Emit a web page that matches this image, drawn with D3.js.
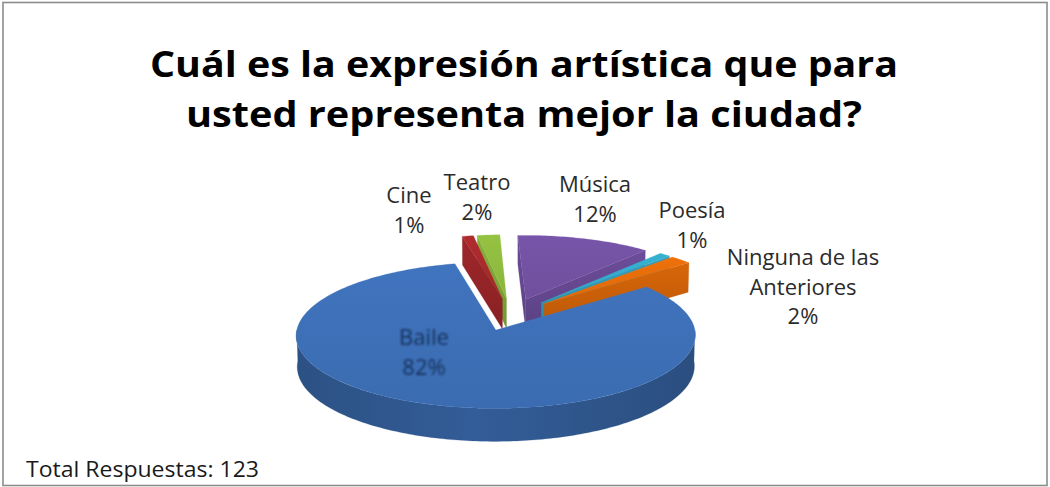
<!DOCTYPE html>
<html>
<head>
<meta charset="utf-8">
<script src="https://cdn.jsdelivr.net/npm/d3@7"></script>
<style>
  html, body { margin: 0; padding: 0; background: #ffffff; }
  svg { display: block; }
</style>
</head>
<body>
<svg id="chart" width="1050" height="487"></svg>
<script>
// Survey answers (percent of 123 responses)
const categories = ["Baile", "Cine", "Teatro", "Música", "Poesía", "Ninguna de las Anteriores"];
const percentValues = [82, 1, 2, 12, 1, 2];
const sliceColors = ["#3d6fb6", "#a8292c", "#8fba3f", "#7251a2", "#35aac8", "#e46c0a"];
const labelLines = [
  ["Baile", "82%"],
  ["Cine", "1%"],
  ["Teatro", "2%"],
  ["Música", "12%"],
  ["Poesía", "1%"],
  ["Ninguna de las", "Anteriores", "2%"]
];
const titleLines = ["Cuál es la expresión artística que para", "usted representa mejor la ciudad?"];
const footnote = "Total Respuestas: 123";

const W = 1050, H = 487;
const svg = d3.select("#chart");

// ---- 3D pie geometry -------------------------------------------------------
const R = 196;                 // pie radius
const tilt = Math.asin(0.36);  // viewing elevation
const camDist = 2600;          // perspective distance
const thick = 33;              // pie thickness
const explode = 45;            // distance each slice is pulled out
const originX = 511, originY = 314.5;
const firstAngle = 51.8 * Math.PI / 180;

const cosT = Math.cos(tilt), sinT = Math.sin(tilt);
function project(X, Y, Z) {
  const zc = camDist + Z * cosT - Y * sinT;
  const yc = Z * sinT + Y * cosT;
  return { x: originX + camDist * X / zc, y: originY - camDist * yc / zc, z: zc };
}

const pie = d3.pie().sort(null).value(d => d)
  .startAngle(firstAngle).endAngle(firstAngle + 2 * Math.PI);
const arcs = pie(percentValues);

const slices = arcs.map((a, i) => {
  const mid = (a.startAngle + a.endAngle) / 2;
  return {
    i, a0: a.startAngle, a1: a.endAngle, mid,
    ox: explode * Math.sin(mid), oz: explode * Math.cos(mid),
    color: sliceColors[i]
  };
});

function pt(s, theta, r, Y) {
  return project(s.ox + r * Math.sin(theta), Y, s.oz + r * Math.cos(theta));
}
function arcPts(s, t0, t1, Y) {
  const n = Math.max(2, Math.ceil(Math.abs(t1 - t0) / (Math.PI / 180)));
  return d3.range(n + 1).map(k => pt(s, t0 + (t1 - t0) * k / n, R, Y));
}
const line = pts => "M" + pts.map(p => p.x.toFixed(2) + "," + p.y.toFixed(2)).join("L") + "Z";

// ---- gradients ------------------------------------------------------------
const defs = svg.append("defs");
slices.forEach(s => {
  const c = d3.color(s.color);
  const gTop = defs.append("linearGradient").attr("id", "top" + s.i)
    .attr("x1", 0).attr("y1", 0).attr("x2", 0).attr("y2", 1);
  gTop.append("stop").attr("offset", "0%").attr("stop-color", c.brighter(0.12));
  gTop.append("stop").attr("offset", "100%").attr("stop-color", c.darker(0.08));

  const gSide = defs.append("linearGradient").attr("id", "side" + s.i)
    .attr("x1", 0).attr("y1", 0).attr("x2", 1).attr("y2", 0);
  gSide.append("stop").attr("offset", "0%").attr("stop-color", c.darker(0.9));
  gSide.append("stop").attr("offset", "45%").attr("stop-color", c.darker(0.5));
  gSide.append("stop").attr("offset", "100%").attr("stop-color", c.darker(1.0));

  const gFace = defs.append("linearGradient").attr("id", "face" + s.i)
    .attr("x1", 0).attr("y1", 0).attr("x2", 0).attr("y2", 1);
  gFace.append("stop").attr("offset", "0%").attr("stop-color", c.darker(0.15));
  gFace.append("stop").attr("offset", "100%").attr("stop-color", c.darker(0.6));
});
const blur = defs.append("filter").attr("id", "soft").attr("x", "-10%").attr("y", "-10%")
  .attr("width", "120%").attr("height", "120%");
blur.append("feGaussianBlur").attr("stdDeviation", 0.9);

// ---- frame ------------------------------------------------------------------
svg.append("rect").attr("x", 3).attr("y", 2.5).attr("width", 1044).attr("height", 483)
  .attr("fill", "#ffffff").attr("stroke", "#8c8c8c").attr("stroke-width", 1.6);

// ---- title ------------------------------------------------------------------
const titleG = svg.append("g")
  .attr("font-family", "'Open Sans', 'Noto Sans', sans-serif")
  .attr("font-weight", "bold").attr("font-size", 36.5).attr("fill", "#000");
const titleLayout = [{ y: 77, len: 748 }, { y: 127, len: 676 }];
titleLines.forEach((t, k) => {
  titleG.append("text").attr("x", W / 2 - 1).attr("y", titleLayout[k].y)
    .attr("text-anchor", "middle")
    .attr("textLength", titleLayout[k].len).attr("lengthAdjust", "spacingAndGlyphs")
    .text(t);
});

// ---- side faces (back to front) -------------------------------------------
const faces = [];
const bottomY = -thick;
slices.forEach(s => {
  const c = pt(s, 0, 0, 0), cb = pt(s, 0, 0, bottomY);
  // start radial face
  if (Math.sin(s.a0) < 0) {
    const o = pt(s, s.a0, R, 0), ob = pt(s, s.a0, R, bottomY);
    const pts = [c, o, ob, cb];
    faces.push({ s, pts, fill: "url(#face" + s.i + ")", z: d3.mean(pts, p => p.z) });
  }
  // end radial face
  if (Math.sin(s.a1) > 0) {
    const o = pt(s, s.a1, R, 0), ob = pt(s, s.a1, R, bottomY);
    const pts = [c, o, ob, cb];
    faces.push({ s, pts, fill: "url(#face" + s.i + ")", z: d3.mean(pts, p => p.z) });
  }
  // outer wall facing the viewer
  for (const shift of [0, 2 * Math.PI]) {
    const lo = Math.max(s.a0, Math.PI / 2 + shift), hi = Math.min(s.a1, 3 * Math.PI / 2 + shift);
    if (hi > lo) {
      const top = arcPts(s, lo, hi, 0);
      const bot = arcPts(s, hi, lo, bottomY);
      const pts = top.concat(bot);
      faces.push({ s, pts, fill: "url(#side" + s.i + ")", z: d3.min(pts, p => p.z) - 1000 });
    }
  }
});
faces.sort((a, b) => b.z - a.z);

const pieG = svg.append("g");
pieG.selectAll("path.face").data(faces).join("path")
  .attr("class", "face")
  .attr("d", f => line(f.pts))
  .attr("fill", f => f.fill)
  .attr("stroke", f => d3.color(f.s.color).darker(0.8))
  .attr("stroke-width", 0.4)
  .attr("stroke-opacity", 0.5);

// ---- top faces ------------------------------------------------------------
const tops = slices.map(s => {
  const c = pt(s, 0, 0, 0);
  const pts = [c].concat(arcPts(s, s.a0, s.a1, 0));
  return { s, pts, z: c.z };
}).sort((a, b) => b.z - a.z);

pieG.selectAll("path.top").data(tops).join("path")
  .attr("class", "top")
  .attr("d", t => line(t.pts))
  .attr("fill", t => "url(#top" + t.s.i + ")")
  .attr("stroke", t => d3.color(t.s.color).brighter(0.2))
  .attr("stroke-width", 0.4)
  .attr("stroke-opacity", 0.6);

// ---- data labels ------------------------------------------------------------
const labelPos = [
  { x: 424, y: 345, fill: "#17305a", soft: true },
  { x: 409, y: 203 },
  { x: 477, y: 190 },
  { x: 595, y: 192 },
  { x: 692, y: 218 },
  { x: 803, y: 265 }
];
const labelG = svg.append("g")
  .attr("font-family", "'Open Sans', 'Noto Sans', sans-serif")
  .attr("font-size", 22).attr("text-anchor", "middle");
labelLines.forEach((lines, i) => {
  const p = labelPos[i];
  const t = labelG.append("text").attr("fill", p.fill || "#2b2b2b");
  if (p.soft) t.attr("filter", "url(#soft)");
  lines.forEach((ln, k) => {
    t.append("tspan").attr("x", p.x).attr("y", p.y + k * (i === 0 ? 30 : 29.5)).text(ln);
  });
});

// ---- footnote -----------------------------------------------------------------
svg.append("text").attr("x", 26).attr("y", 477)
  .attr("font-family", "'Open Sans', 'Noto Sans', sans-serif")
  .attr("font-size", 22).attr("fill", "#1a1a1a")
  .attr("textLength", 233).attr("lengthAdjust", "spacingAndGlyphs")
  .text(footnote);
</script>
</body>
</html>
